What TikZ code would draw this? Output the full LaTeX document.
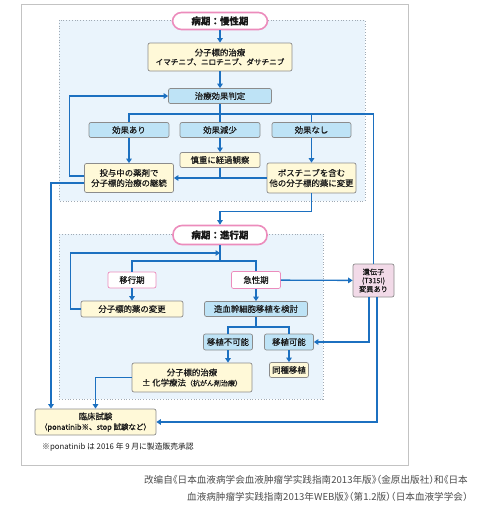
\documentclass[tikz,border=0pt]{standalone}
\usepackage{fontspec}
\newfontfamily\jpfont[FakeBold=0.45]{Noto Sans CJK JP}
\newfontfamily\jplight{Noto Sans CJK JP}
\newfontfamily\scfont[RawFeature=+halt]{Noto Sans CJK SC}
\usetikzlibrary{arrows.meta}
\definecolor{flowblue}{RGB}{28,112,192}
\definecolor{panelfill}{RGB}{234,244,252}
\definecolor{panelline}{RGB}{160,170,180}
\definecolor{creamfill}{RGB}{255,249,216}
\definecolor{judgefill}{RGB}{190,227,246}
\definecolor{boxline}{RGB}{140,140,140}
\definecolor{pinkline}{RGB}{236,140,188}
\definecolor{genefill}{RGB}{242,218,232}
\definecolor{framegray}{RGB}{195,195,195}

\begin{document}
\begin{tikzpicture}[x=1pt,y=-1pt,font=\jpfont\fontsize{8.4}{10.2}\selectfont,text=black!90,
  box/.style={draw=boxline,line width=0.7pt,rounded corners=2pt,inner sep=0pt,align=center},
  cream/.style={box,fill=creamfill},
  judge/.style={box,fill=judgefill},
  stage/.style={box,draw=pinkline,fill=white},
  pill/.style={draw=pinkline,line width=1.6pt,fill=white,rounded corners=9pt,inner sep=0pt,
    font=\jpfont\bfseries\fontsize{9.5}{11}\selectfont},
  flow/.style={draw=flowblue,line width=1.3pt},
  arr/.style={flow,-{Triangle[width=5.5pt,length=4.5pt]}}]

\useasboundingbox (0,0) rectangle (484,509);
\draw[framegray,line width=0.8pt] (21,4) rectangle (408,465);

\draw[panelline,fill=panelfill,dotted,line width=0.8pt] (59,20) rectangle (365,201);
\draw[panelline,fill=panelfill,dotted,line width=0.8pt] (59,234) rectangle (323,399);

% chronic phase
\node[pill,minimum width=95pt,minimum height=17pt] (chronic) at (220,21) {病期：慢性期};
\node[cream,minimum width=144pt,minimum height=28pt] (tki) at (220,57)
  {分子標的治療\\[-1pt]{\fontsize{7.6}{9}\selectfont イマチニブ、ニロチニブ、ダサチニブ}};
\node[judge,minimum width=103pt,minimum height=15pt] (resp) at (220,96) {治療効果判定};
\node[judge,minimum width=80pt,minimum height=15pt] (good) at (129,130) {効果あり};
\node[judge,minimum width=80pt,minimum height=15pt] (less) at (220,130) {効果減少};
\node[judge,minimum width=79pt,minimum height=15pt] (none) at (311.5,130) {効果なし};
\node[cream,minimum width=89pt,minimum height=29pt] (keep) at (129,178) {投与中の薬剤で\\分子標的治療の継続};
\node[cream,minimum width=80pt,minimum height=15pt] (watch) at (220,160) {慎重に経過観察};
\node[cream,minimum width=89pt,minimum height=30pt] (switch) at (311.5,178) {ボスチニブを含む\\他の分子標的薬に変更};

% advanced phase
\node[pill,minimum width=94pt,minimum height=19pt] (adv) at (220,235) {病期：進行期};
\node[stage,minimum width=48pt,minimum height=16pt] (trans) at (132,280) {移行期};
\node[stage,minimum width=49pt,minimum height=17pt] (acute) at (256,280) {急性期};
\node[cream,minimum width=102pt,minimum height=16pt] (change) at (132,309) {分子標的薬の変更};
\node[judge,minimum width=103pt,minimum height=15pt] (sct) at (256,309) {造血幹細胞移植を検討};
\node[judge,minimum width=49pt,minimum height=16pt] (nosct) at (228,342) {移植不可能};
\node[judge,minimum width=49pt,minimum height=16pt] (yessct) at (289,342) {移植可能};
\node[cream,minimum width=39pt,minimum height=15pt] (allo) at (289,370) {同種移植};
\node[cream,minimum width=120pt,minimum height=29pt] (chemo) at (192,377.5)
  {分子標的治療\\± 化学療法{\fontsize{7}{9}\selectfont（抗がん剤治療）}};
\node[cream,minimum width=121pt,minimum height=26pt] (trial) at (95.5,422)
  {臨床試験\\{\fontsize{7.5}{9}\selectfont（ponatinib※、stop 試験など）}};
\node[box,fill=genefill,minimum width=41pt,minimum height=33pt,font=\jpfont\fontsize{7.2}{8.6}\selectfont]
  (gene) at (373.5,280.5) {遺伝子\\(T315I)\\変異あり};

\node[anchor=west,inner sep=0pt,font=\jplight\fontsize{7.8}{9}\selectfont] (note) at (42,447)
  {※ponatinib は 2016 年 9 月に製造販売承認};
\node[anchor=east,inner sep=0pt,text=black!70,font=\scfont\fontsize{9.6}{11}\selectfont] (cap1) at (468,480)
  {改编自《日本血液病学会血液肿瘤学实践指南2013年版》（金原出版社）和《日本};
\node[anchor=east,inner sep=0pt,text=black!70,font=\scfont\fontsize{9.6}{11}\selectfont] (cap2) at (468,497)
  {血液病肿瘤学实践指南2013年WEB版》（第1.2版）（日本血液学学会）};

\coordinate (b1) at (220,114);
\coordinate (b2) at (220,261);
\coordinate (b3) at (256,327);
\coordinate (m2) at (220,253);

\draw[arr] (chronic) -- (tki);
\draw[arr] (tki) -- (resp);
\draw[flow] (resp) -- (less);
\draw[flow] (good.north) |- (b1) -| (gene.north);
\draw[flow] (none.north) -- (none.north |- b1);
\draw[arr] (good) -- (keep);
\draw[arr] (less) -- (watch);
\draw[arr] (none) -- (switch);
\draw[arr] (watch.south) |- (keep.east);
\draw[flow] (switch.west) -- (watch.south |- switch.west);
\draw[arr] ([yshift=2pt]keep.west) -- ++(-15,0) |- (resp.west);
\draw[arr] ([yshift=-5pt]keep.west) -| ([xshift=-44.5pt]trial.north);
\draw[arr] (switch.south) -- ++(0,18) -| (adv.north);

\draw[flow] (adv) -- (b2);
\draw[flow] (trans.north) |- (b2) -| (acute.north);
\draw[arr] (change.west) -- ++(-10,0) |- (m2);
\draw[arr] (trans) -- (change);
\draw[arr] (acute) -- (sct);
\draw[arr] (acute) -- (gene);
\draw[flow] (sct) -- (b3);
\draw[flow] (nosct.north) |- (b3) -| (yessct.north);
\draw[arr] (yessct) -- (allo);
\draw[arr] (nosct.south) -- (nosct.south |- chemo.north);
\draw[arr] (chemo.west) -| (trial.north);
\draw[arr] ([xshift=-4.5pt]gene.south) |- (yessct.east);
\draw[arr] ([xshift=3.5pt]gene.south) |- (trial.east);

\end{tikzpicture}
\end{document}
